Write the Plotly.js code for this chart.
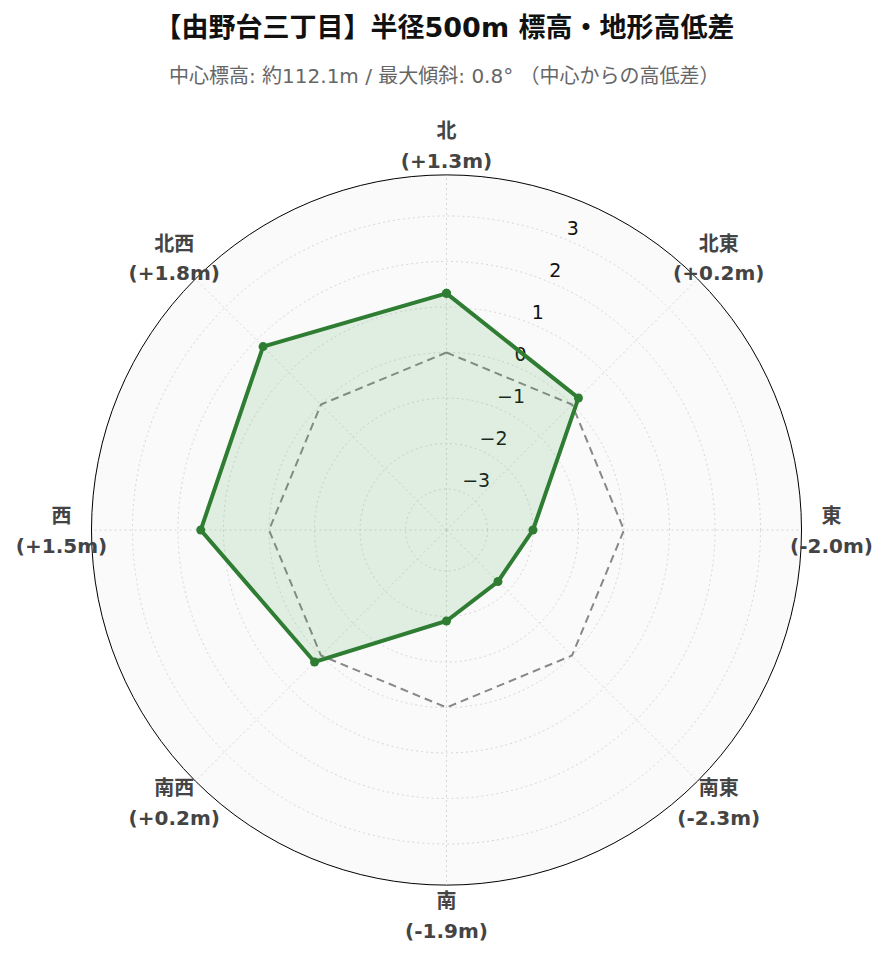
<!DOCTYPE html>
<html>
<head>
<meta charset="utf-8">
<script src="https://cdn.plot.ly/plotly-3.0.1.min.js"></script>
<style>html,body{margin:0;padding:0;background:#fff;}#chart{width:889px;height:962px;}</style>
</head>
<body>
<div id="chart"></div>
<script>
const directions = ['北', '北東', '東', '南東', '南', '南西', '西', '北西'];
const directionAngles = [0, 45, 90, 135, 180, 225, 270, 315];
const elevationDiff = [1.3, 0.2, -2.0, -2.3, -1.9, 0.2, 1.5, 1.8];
const baseline = [0, 0, 0, 0, 0, 0, 0, 0];
const tickLabels = ['北<br>(+1.3m)', '北東<br>(+0.2m)', '東<br>(-2.0m)', '南東<br>(-2.3m)',
                    '南<br>(-1.9m)', '南西<br>(+0.2m)', '西<br>(+1.5m)', '北西<br>(+1.8m)'];
const radialTicks = [-3, -2, -1, 0, 1, 2, 3];

const closeLoop = a => a.concat([a[0]]);
const FONT = 'DejaVu Sans, Noto Sans CJK JP, sans-serif';
const R_RANGE = [-3.9, 3.9];
const RADIAL_LABEL_THETA = 22.5;
const fmtTick = v => (v < 0 ? '\u2212' + Math.abs(v) : String(v));
const styledLabels = tickLabels.map(t =>
  t.split('<br>').map(s => '<span style="font-size:20px">' + s + '</span>').join('<br>'));

// geometry of the two concentric polar areas (pixels)
const W = 889, H = 962;
const CX = 446.5, CY_TOP = 530, R_PLOT = 355, R_LABEL = 385, LABEL_DY = 2;
const dom = (r, dy) => {
  const cy = H - CY_TOP - dy;
  return {x: [(CX - r) / W, (CX + r) / W], y: [(cy - r) / H, (cy + r) / H]};
};

const traces = [
  {
    type: 'scatterpolar',
    r: radialTicks,
    theta: radialTicks.map(() => RADIAL_LABEL_THETA),
    mode: 'text',
    text: radialTicks.map(fmtTick),
    textposition: 'top right',
    textfont: {family: FONT, size: 19, color: '#111'},
    cliponaxis: false,
    hoverinfo: 'skip',
    showlegend: false
  },
  {
    type: 'scatterpolar',
    r: closeLoop(baseline),
    theta: closeLoop(directionAngles),
    mode: 'lines',
    line: {color: '#888888', width: 2, dash: '8px,5px'},
    hoverinfo: 'skip',
    showlegend: false
  },
  {
    type: 'scatterpolar',
    r: closeLoop(elevationDiff),
    theta: closeLoop(directionAngles),
    mode: 'lines+markers',
    fill: 'toself',
    fillcolor: 'rgba(76,175,80,0.15)',
    line: {color: '#2e7d32', width: 4},
    marker: {color: '#2e7d32', size: 9},
    showlegend: false
  },
  {
    type: 'scatterpolar',
    subplot: 'polar2',
    r: directions.map(() => 1),
    theta: directionAngles,
    mode: 'text',
    text: styledLabels,
    textposition: 'middle center',
    textfont: {family: FONT, size: 23, color: '#444444', weight: 'bold'},
    cliponaxis: false,
    hoverinfo: 'skip',
    showlegend: false
  }
];

const hiddenAxis = {visible: false, showgrid: false, showline: false, showticklabels: false, ticks: ''};

const layout = {
  width: W,
  height: H,
  margin: {l: 0, r: 0, t: 0, b: 0},
  paper_bgcolor: '#ffffff',
  font: {family: FONT, color: '#222'},
  showlegend: false,
  title: {
    text: '<b>【由野台三丁目】半径500m 標高・地形高低差</b>',
    x: 0.5, xanchor: 'center',
    y: 1 - 28 / H, yref: 'container', yanchor: 'middle',
    font: {family: FONT, size: 27, color: '#111'}
  },
  annotations: [{
    text: '中心標高: 約112.1m / 最大傾斜: 0.8° （中心からの高低差）',
    xref: 'paper', yref: 'paper',
    x: 0.5, xanchor: 'center',
    y: 1 - 76 / H, yanchor: 'middle',
    showarrow: false,
    font: {family: FONT, size: 20, color: '#666666'}
  }],
  polar: {
    domain: dom(R_PLOT, 0),
    bgcolor: '#fafafa',
    angularaxis: {
      type: 'linear',
      thetaunit: 'degrees',
      tickmode: 'array',
      tickvals: directionAngles,
      rotation: 90,
      direction: 'clockwise',
      showline: true,
      linecolor: '#000000',
      linewidth: 1,
      gridcolor: '#d6d6d6',
      griddash: '2px,3px',
      ticks: '',
      showticklabels: false
    },
    radialaxis: {
      range: R_RANGE,
      tickvals: radialTicks,
      angle: 67.5,
      showline: false,
      ticks: '',
      showticklabels: false,
      gridcolor: '#d6d6d6',
      griddash: '2px,3px',
      layer: 'below traces'
    }
  },
  polar2: {
    domain: dom(R_LABEL, LABEL_DY),
    bgcolor: 'rgba(0,0,0,0)',
    angularaxis: Object.assign({type: 'linear', rotation: 90, direction: 'clockwise'}, hiddenAxis),
    radialaxis: Object.assign({range: [0, 1]}, hiddenAxis)
  }
};

Plotly.newPlot('chart', traces, layout, {displayModeBar: false, staticPlot: true});
</script>
</body>
</html>
